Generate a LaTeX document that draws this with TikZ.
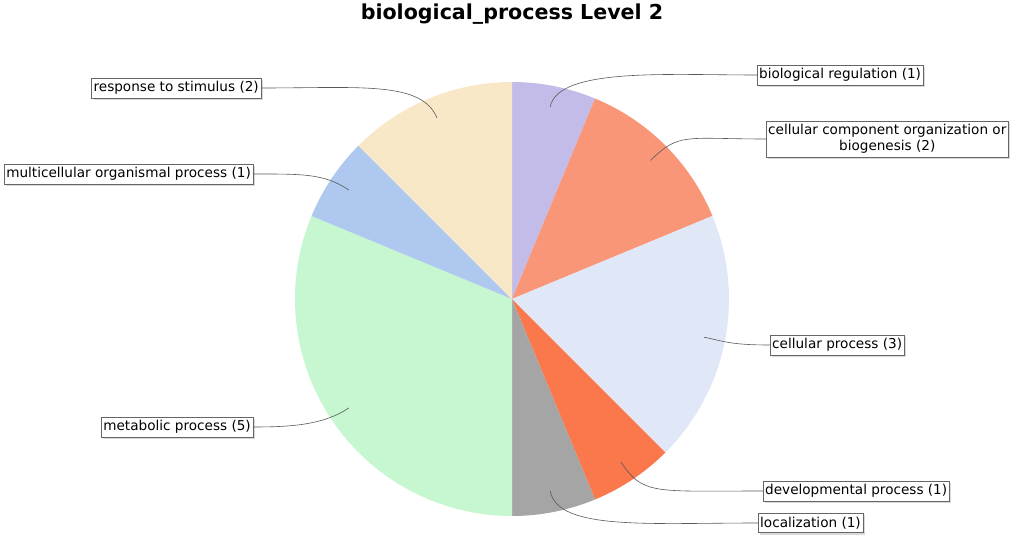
\documentclass[tikz,border=0pt]{standalone}
\usepackage{fontspec}
\setmainfont{DejaVu Sans}
\usetikzlibrary{positioning,shadows}

\definecolor{cBio}{RGB}{196,188,232}
\definecolor{cComp}{RGB}{250,150,120}
\definecolor{cCell}{RGB}{224,232,248}
\definecolor{cDev}{RGB}{250,120,75}
\definecolor{cLoc}{RGB}{165,165,165}
\definecolor{cMet}{RGB}{198,247,208}
\definecolor{cMul}{RGB}{175,200,240}
\definecolor{cRes}{RGB}{248,232,200}

\tikzset{
  lab/.style={draw=gray!80!black, fill=white, font=\fontsize{13.6}{16}\selectfont,
    inner xsep=2pt, inner ysep=3.6pt, align=center,
    drop shadow={shadow xshift=2pt, shadow yshift=-2pt, opacity=.3, fill=gray}},
  lnk/.style={draw=gray!70!black, line width=0.6pt}
}

\begin{document}
\begin{tikzpicture}[x=1pt,y=1pt]
\useasboundingbox (-512,-242) rectangle (510,299);
\node[font=\bfseries\fontsize{20.6}{23}\selectfont] (title) at (0,285) {biological\_process Level 2};

% slices, clockwise from the top
\foreach \a/\b/\c in {90/67.5/cBio, 67.5/22.5/cComp, 22.5/-45/cCell, -45/-67.5/cDev,
  -67.5/-90/cLoc, -90/-202.5/cMet, -202.5/-225/cMul, -225/-270/cRes}
  \fill[\c] (0,0) -- (\a:217) arc[start angle=\a, end angle=\b, radius=217] -- cycle;

% points on the slices
\coordinate (pBio) at (78.75:196);
\coordinate (pComp) at (45:196);
\coordinate (pCell) at (-11.25:196);
\coordinate (pDev) at (-56.25:196);
\coordinate (pLoc) at (-78.75:196);
\coordinate (pMet) at (-146.25:196);
\coordinate (pMul) at (146.25:196);
\coordinate (pRes) at (112.5:196);

% labels
\node[lab, anchor=west] (bio) at (245,224) {biological regulation (1)};
\node[lab, anchor=west] (comp) at (254,160) {cellular component organization or\\biogenesis (2)};
\node[lab, anchor=west] (cell) at (258,-46) {cellular process (3)};
\node[lab, anchor=west] (dev) at (251,-192) {developmental process (1)};
\node[lab, anchor=west] (loc) at (246,-224) {localization (1)};
\node[lab, anchor=east] (met) at (-259,-128) {metabolic process (5)};
\node[lab, anchor=east] (mul) at (-259,125) {multicellular organismal process (1)};
\node[lab, anchor=east] (res) at (-251,211) {response to stimulus (2)};

% connectors
\draw[lnk] (bio.west) .. controls +(-90,0) and +(78.75:40) .. (pBio);
\draw[lnk] (comp.west) .. controls +(-80,0) and +(45:40) .. (pComp);
\draw[lnk] (cell.west) .. controls +(-40,0) and +(-11.25:20) .. (pCell);
\draw[lnk] (dev.west) .. controls +(-110,0) and +(-56.25:40) .. (pDev);
\draw[lnk] (loc.west) .. controls +(-110,0) and +(-78.75:40) .. (pLoc);
\draw[lnk] (met.east) .. controls +(40,0) and +(-146.25:30) .. (pMet);
\draw[lnk] (mul.east) .. controls +(50,0) and +(146.25:30) .. (pMul);
\draw[lnk] (res.east) .. controls +(100,0) and +(112.5:40) .. (pRes);
\end{tikzpicture}
\end{document}
